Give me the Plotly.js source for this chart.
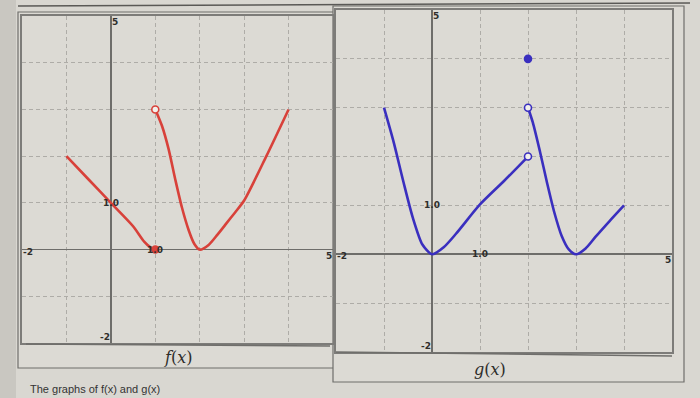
<!DOCTYPE html>
<html><head><meta charset="utf-8">
<script src="https://cdn.plot.ly/plotly-3.0.1.min.js"></script>
<style>html,body{margin:0;padding:0;background:#d9d7d1;}#c{width:700px;height:398px;}</style>
</head><body><div id="c"></div>
<script>
// f(x) pieces
const fLeftX = [-1, -0.5, 0, 0.5, 0.75, 0.9, 1];
const fLeftY = [2, 1.5, 1, 0.5, 0.17, 0.04, 0];
const fMidX = [1, 1.15, 1.3, 1.45, 1.6, 1.75, 1.88, 2, 2.2, 2.4, 2.6, 2.8, 3, 3.5, 4];
const fMidY = [3, 2.65, 2.15, 1.5, 0.9, 0.42, 0.12, 0, 0.1, 0.32, 0.56, 0.8, 1.05, 2, 3];
const fOpenX = [1], fOpenY = [3];
const fFillX = [1], fFillY = [0];
// g(x) pieces
const gLeftX = [-1, -0.8, -0.6, -0.4, -0.2, 0, 0.25, 0.5, 1, 1.5, 2];
const gLeftY = [3, 2.3, 1.5, 0.75, 0.2, 0, 0.15, 0.42, 1.02, 1.5, 2];
const gRightX = [2, 2.1, 2.25, 2.4, 2.55, 2.7, 2.85, 3, 3.2, 3.4, 3.7, 4];
const gRightY = [3, 2.7, 2.1, 1.45, 0.85, 0.38, 0.1, 0, 0.12, 0.35, 0.68, 1];
const gOpenX = [2, 2], gOpenY = [2, 3];
const gFillX = [2], gFillY = [4];
// axis labels
const axisMin = -2, axisMax = 5;
const unitLabel = "1.0";
const captions = ["<i>f</i>(<i>x</i>)", "<i>g</i>(<i>x</i>)"];
const footText = "The graphs of f(x) and g(x)";

const red = '#d8413a', blue = '#3a2fbf';
function line(x, y, c, xa, ya) {
  return {x, y, xaxis: xa, yaxis: ya, mode: 'lines', type: 'scatter',
    line: {color: c, width: 2.6, shape: 'spline', smoothing: 0.7}, hoverinfo: 'skip'};
}
function pts(x, y, c, open, xa, ya) {
  return {x, y, xaxis: xa, yaxis: ya, mode: 'markers', type: 'scatter',
    marker: {size: 7, color: open ? '#f2f0ec' : c, line: {color: c, width: 1.6}}, hoverinfo: 'skip'};
}
const data = [
  line(fLeftX, fLeftY, red, 'x', 'y'),
  line(fMidX, fMidY, red, 'x', 'y'),
  pts(fOpenX, fOpenY, red, true, 'x', 'y'),
  pts(fFillX, fFillY, red, false, 'x', 'y'),
  line(gLeftX, gLeftY, blue, 'x2', 'y2'),
  line(gRightX, gRightY, blue, 'x2', 'y2'),
  pts(gOpenX, gOpenY, blue, true, 'x2', 'y2'),
  pts(gFillX, gFillY, blue, false, 'x2', 'y2'),
];
const W = 700, H = 398;
const px = v => v / W, py = v => 1 - v / H;
function ax(dom) {
  return {domain: dom, range: [axisMin, axisMax], dtick: 1, tick0: 0,
    showgrid: true, gridcolor: '#aeaca7', griddash: '4px,3px', gridwidth: 1,
    zeroline: true, zerolinecolor: '#6e6d6a', zerolinewidth: 1.6,
    showline: true, mirror: true, linecolor: '#7d7c79', linewidth: 2,
    showticklabels: false, ticks: '', fixedrange: true};
}
const L = {x: [22, 333], y: [16, 343]};
const R = {x: [336, 672], y: [10, 352]};
const layout = {
  width: W, height: H, margin: {l: 0, r: 0, t: 0, b: 0},
  paper_bgcolor: '#d9d7d1', plot_bgcolor: '#e4e2dc', showlegend: false,
  xaxis: Object.assign(ax([px(L.x[0]), px(L.x[1])]), {anchor: 'y'}),
  yaxis: Object.assign(ax([py(L.y[1]), py(L.y[0])]), {anchor: 'x'}),
  xaxis2: Object.assign(ax([px(R.x[0]), px(R.x[1])]), {anchor: 'y2'}),
  yaxis2: Object.assign(ax([py(R.y[1]), py(R.y[0])]), {anchor: 'x2'}),
  font: {family: 'DejaVu Sans', color: '#333'},
  shapes: [], annotations: []
};
const rect = (x0, y0, x1, y1, col, w, fill) => ({type: 'rect', xref: 'paper', yref: 'paper',
  x0: px(x0), x1: px(x1), y0: py(y1), y1: py(y0), line: {color: col, width: w}, fillcolor: fill || 'rgba(0,0,0,0)', layer: 'below'});
layout.shapes.push(rect(0, -5, 16, 400, 'rgba(0,0,0,0)', 0, '#c9c7c1'));
layout.shapes.push({type: 'line', xref: 'paper', yref: 'paper', x0: px(18), x1: px(690), y0: py(6), y1: py(3), line: {color: '#5a5956', width: 1.5}});
layout.shapes.push(rect(18, 12, 336, 368, '#6f6e6b', 1.2, '#dcdad4'));
layout.shapes.push(rect(333, 6, 684, 382, '#6f6e6b', 1.2, '#dcdad4'));
layout.shapes.push({type: 'line', xref: 'paper', yref: 'paper', x0: px(26), x1: px(330), y0: py(344), y1: py(346), line: {color: '#6f6e6b', width: 1.5}});
layout.shapes.push({type: 'line', xref: 'paper', yref: 'paper', x0: px(336), x1: px(672), y0: py(352), y1: py(356), line: {color: '#6f6e6b', width: 1.5}});

function lab(xa, ya, x, y, t, xs, ys) {
  return {xref: xa, yref: ya, x, y, text: t, showarrow: false, xshift: xs || 0, yshift: ys || 0,
    font: {size: 9, color: '#2f2e2b', family: 'DejaVu Sans', weight: 'bold'}};
}
[['x', 'y'], ['x2', 'y2']].forEach(([xa, ya]) => {
  layout.annotations.push(lab(xa, ya, 0, axisMax, String(axisMax), 4, -6));
  layout.annotations.push(lab(xa, ya, 0, axisMin, String(axisMin), -6, 6));
  layout.annotations.push(lab(xa, ya, axisMin, 0, String(axisMin), 6, -2));
  layout.annotations.push(lab(xa, ya, axisMax, 0, String(axisMax), -4, -6));
  layout.annotations.push(lab(xa, ya, 0, 1, unitLabel, 0, 0));
  layout.annotations.push(lab(xa, ya, 1, 0, unitLabel, 0, 0));
});
layout.annotations.push({xref: 'paper', yref: 'paper', x: px(178), y: py(357), xanchor: 'center', yanchor: 'middle', text: captions[0], showarrow: false,
  font: {size: 16, family: 'DejaVu Serif', color: '#2e2d2b'}});
layout.annotations.push({xref: 'paper', yref: 'paper', x: px(490), y: py(369), xanchor: 'center', yanchor: 'middle', text: captions[1], showarrow: false,
  font: {size: 16, family: 'DejaVu Serif', color: '#2e2d2b'}});
layout.annotations.push({xref: 'paper', yref: 'paper', x: px(28), y: py(397), xanchor: 'left', yanchor: 'bottom', text: footText, showarrow: false,
  font: {size: 11, family: 'Liberation Sans', color: '#333'}});
Plotly.newPlot('c', data, layout, {staticPlot: true});
</script></body></html>
